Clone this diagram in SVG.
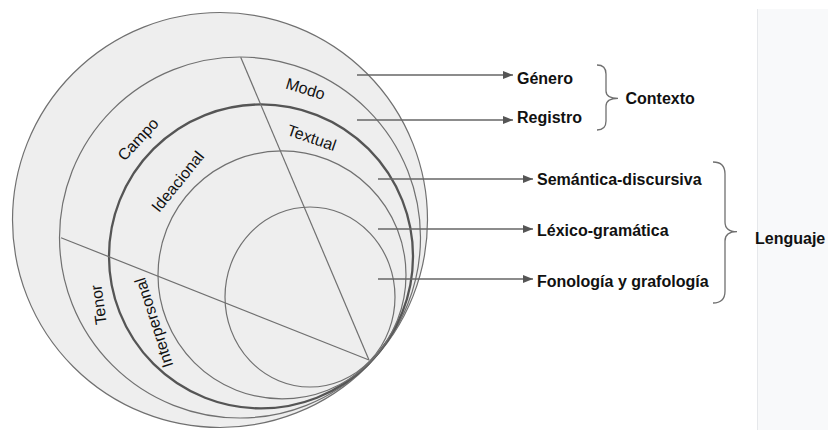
<svg xmlns="http://www.w3.org/2000/svg" width="828" height="435" viewBox="0 0 828 435">
<defs>
<marker id="ah" markerWidth="10" markerHeight="8" refX="10" refY="4" orient="auto" markerUnits="userSpaceOnUse">
<path d="M0,0 L10,4 L0,8 z" fill="#555"/>
</marker>
<style>
.ring{fill:none;stroke:#707070;stroke-width:1.2}
.thick{fill:none;stroke:#555;stroke-width:2.3}
.div{stroke:#707070;stroke-width:1.2;fill:none}
.arr{stroke:#666;stroke-width:1.3;fill:none;marker-end:url(#ah)}
.brace{stroke:#707070;stroke-width:1.3;fill:none}
.lab{font-family:"Liberation Sans",Arial,sans-serif;font-size:16px;fill:#111}
.b{font-family:"Liberation Sans",Arial,sans-serif;font-size:16px;font-weight:bold;fill:#111}
</style>
</defs>
<rect x="0" y="0" width="828" height="435" fill="#ffffff"/>
<g id="strip">
<rect x="757" y="9" width="71" height="421" fill="#f8f9fa"/>
<line x1="757.5" y1="9" x2="757.5" y2="430" stroke="#e6e8eb" stroke-width="1"/>
</g>
<g id="circles">
<circle id="c1" cx="220" cy="220" r="207.5" fill="#eeeeee" stroke="#707070" stroke-width="1.2"/>
<circle id="c2" class="ring" cx="240" cy="237.5" r="180.5"/>
<circle id="c3" class="thick" cx="261" cy="256.4" r="152"/>
<circle id="c4" class="ring" cx="282" cy="274.9" r="124"/>
<ellipse id="c5" class="ring" cx="310" cy="297" rx="85" ry="90"/>
</g>
<g id="dividers">
<line class="div" x1="240.7" y1="57.3" x2="369" y2="360"/>
<line class="div" x1="61" y1="237.7" x2="369" y2="360"/>
</g>
<g id="ring-labels">
<text class="lab" transform="translate(304,94) rotate(17)" text-anchor="middle">Modo</text>
<text class="lab" transform="translate(310,143) rotate(19)" text-anchor="middle">Textual</text>
<text class="lab" transform="translate(142,143) rotate(-47)" text-anchor="middle">Campo</text>
<text class="lab" transform="translate(182,185) rotate(-51)" text-anchor="middle">Ideacional</text>
<text class="lab" transform="translate(104,304) rotate(-98)" text-anchor="middle">Tenor</text>
<text class="lab" transform="translate(159,321) rotate(-108)" text-anchor="middle">Interpersonal</text>
</g>
<g id="connectors">
<line class="arr" x1="357" y1="75" x2="513" y2="75"/>
<line class="arr" x1="357" y1="120" x2="513" y2="120"/>
<line class="arr" x1="378" y1="179" x2="533" y2="179"/>
<line class="arr" x1="378" y1="229" x2="533" y2="229"/>
<line class="arr" x1="378" y1="279" x2="533" y2="279"/>
</g>
<g id="genero"><text class="b" x="517" y="83.5">Género</text></g>
<g id="registro"><text class="b" x="517" y="122.5">Registro</text></g>
<g id="semantica"><text class="b" x="537" y="185">Semántica-discursiva</text></g>
<g id="lexico"><text class="b" x="537" y="236">Léxico-gramática</text></g>
<g id="fonologia"><text class="b" x="537" y="286.5">Fonología y grafología</text></g>
<g id="brace-contexto">
<path class="brace" d="M597,65 Q606,65 606,74 L606,91 Q606,98.3 618,98.3 Q606,98.3 606,106 L606,121 Q606,130 597,130"/>
<text class="b" x="625.5" y="104">Contexto</text>
</g>
<g id="brace-lenguaje">
<path class="brace" d="M713,162 Q725,162 725,174 L725,222 Q725,231.7 737,231.7 Q725,231.7 725,241 L725,291 Q725,303 713,303"/>
<text class="b" x="755" y="243.5">Lenguaje</text>
</g>
</svg>
